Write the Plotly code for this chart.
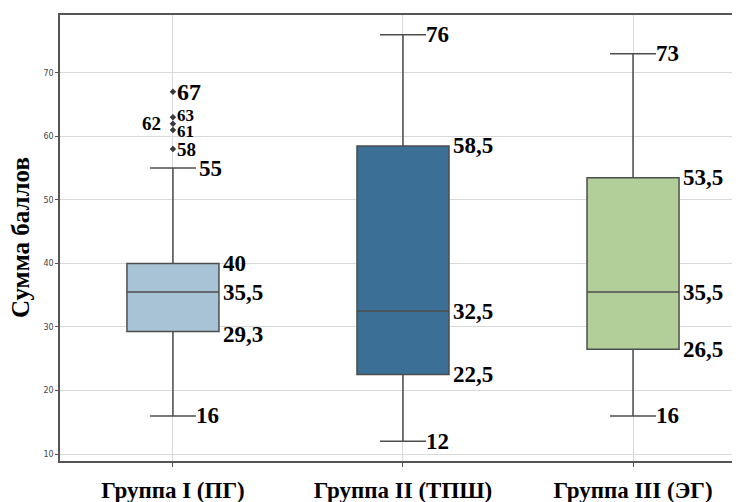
import plotly.graph_objects as go

categories = ["Группа I (ПГ)", "Группа II (ТПШ)", "Группа III (ЭГ)"]
lower_fence = [16, 12, 16]
q1 = [29.3, 22.5, 26.5]
median = [35.5, 32.5, 35.5]
q3 = [40, 58.5, 53.5]
upper_fence = [55, 76, 73]
q1_labels = ["29,3", "22,5", "26,5"]
median_labels = ["35,5", "32,5", "35,5"]
q3_labels = ["40", "58,5", "53,5"]
fence_lo_labels = ["16", "12", "16"]
fence_hi_labels = ["55", "76", "73"]
outliers_g1 = [67, 63, 62, 61, 58]
outlier_labels = ["67", "63", "62", "61", "58"]
colors = ["#a9c3d6", "#3b6f95", "#b3cf99"]

serif = "Liberation Serif, Times New Roman, serif"
fig = go.Figure()

for i in range(3):
    fig.add_trace(go.Box(
        x=[i], q1=[q1[i]], median=[median[i]], q3=[q3[i]],
        lowerfence=[lower_fence[i]], upperfence=[upper_fence[i]],
        fillcolor=colors[i], line=dict(color="#4d4d4d", width=1.5),
        width=0.4, whiskerwidth=0.5, boxpoints=False, showlegend=False,
        hoverinfo="skip",
    ))

fig.add_trace(go.Scatter(
    x=[0] * len(outliers_g1), y=outliers_g1, mode="markers",
    marker=dict(symbol="diamond", size=5, color="#3a3a3a"),
    showlegend=False, hoverinfo="skip",
))

ann = []
def lab(x, y, text, size, xshift, anchor="left", yshift=0):
    ann.append(dict(x=x, y=y, xref="x", yref="y", text=text, showarrow=False,
                    xanchor=anchor, yanchor="middle", xshift=xshift, yshift=yshift,
                    font=dict(family=serif, size=size, color="black", weight="bold")))

for i in range(3):
    lab(i + 0.2, q3[i], q3_labels[i], 23, 2)
    lab(i + 0.2, median[i], median_labels[i], 23, 2)
    lab(i + 0.2, q1[i], q1_labels[i], 23, 2, yshift=-3 if i == 0 else 0)
    lab(i + 0.1, lower_fence[i], fence_lo_labels[i], 23, -2)
    lab(i + 0.1, upper_fence[i], fence_hi_labels[i], 23, -2 if i else 1)

out_sizes = [24, 17, 19, 17, 19]
out_yshift = [0, 2, 0, -2, 0]
for v, t, s, ys in zip(outliers_g1, outlier_labels, out_sizes, out_yshift):
    if t == "62":
        lab(0, v, t, s, -10, anchor="right")
    else:
        lab(0, v, t, s, 2, yshift=ys)

ann.append(dict(x=0, y=0.5, xref="paper", yref="paper", text="Сумма баллов",
                showarrow=False, textangle=-90, xanchor="center", yanchor="middle",
                xshift=-40, font=dict(family=serif, size=25, color="black", weight="bold")))

fig.update_layout(
    width=732, height=502,
    margin=dict(l=52, r=0, t=7, b=49),
    paper_bgcolor="white", plot_bgcolor="white",
    annotations=ann,
    xaxis=dict(
        range=[-0.491, 2.465], tickvals=[0, 1, 2], ticktext=categories,
        automargin=False,
        showgrid=True, gridcolor="#d9d9d9", gridwidth=1,
        showline=True, linecolor="#555555", linewidth=1.5, mirror=True,
        ticks="outside", ticklen=4, tickcolor="#555555",
        ticklabelstandoff=4,
        tickfont=dict(family=serif, size=23, color="black", weight="bold"),
        zeroline=False,
    ),
    yaxis=dict(
        range=[8.9, 79.1], tickvals=[10, 20, 30, 40, 50, 60, 70],
        automargin=False,
        showgrid=True, gridcolor="#d9d9d9", gridwidth=1,
        showline=True, linecolor="#555555", linewidth=1.5, mirror=True,
        ticks="outside", ticklen=3, tickcolor="#555555",
        tickfont=dict(family="DejaVu Sans", size=8, color="#444444"),
        zeroline=False,
    ),
)

fig.write_html("out.html")
